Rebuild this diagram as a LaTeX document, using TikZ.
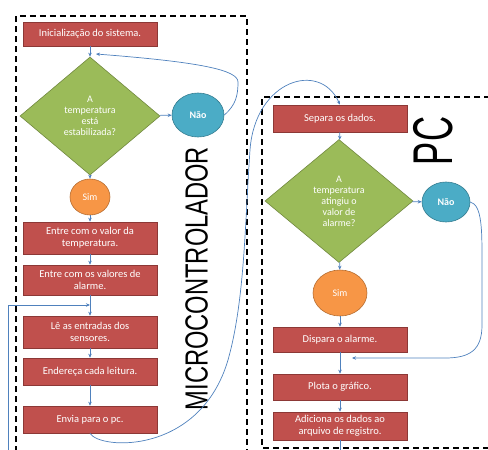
\documentclass[tikz,border=0pt]{standalone}
\usepackage{fontspec}
\setmainfont{Carlito}
\newfontfamily\rotulofont{Liberation Sans}
\usetikzlibrary{shapes.geometric,arrows.meta}

\definecolor{vermelho}{HTML}{C0504D}
\definecolor{vermelhoborda}{HTML}{8C3836}
\definecolor{verde}{HTML}{9BBB59}
\definecolor{verdeborda}{HTML}{71893F}
\definecolor{azul}{HTML}{4BACC6}
\definecolor{azulborda}{HTML}{357D91}
\definecolor{laranja}{HTML}{F79646}
\definecolor{laranjaborda}{HTML}{B66D31}
\definecolor{seta}{HTML}{4F81BD}

\tikzset{
  caixa/.style={draw=vermelhoborda,fill=vermelho,line width=0.6pt,text=white,
    minimum width=134pt,inner sep=1pt,align=center,
    font=\fontsize{10.5}{12}\selectfont},
  losango/.style={diamond,draw=verdeborda,fill=verde,line width=0.6pt,text=white,
    inner sep=0pt,align=center,font=\fontsize{10}{11}\selectfont},
  bolanao/.style={ellipse,draw=azulborda,fill=azul,line width=0.6pt,text=white,
    inner sep=0pt,font=\bfseries\fontsize{10}{11}\selectfont},
  bolasim/.style={ellipse,draw=laranjaborda,fill=laranja,line width=0.6pt,text=white,
    inner sep=0pt,font=\fontsize{10}{11}\selectfont},
  ligacao/.style={draw=seta,line width=0.7pt,-{Stealth[length=4pt,width=3.5pt]}},
  linha/.style={draw=seta,line width=0.7pt},
  moldura/.style={line width=1.6pt,dash pattern=on 6pt off 4pt}
}

\begin{document}
\begin{tikzpicture}[x=1pt,y=-1pt]
  \useasboundingbox (0,0) rectangle (488,450);

  % molduras tracejadas
  \draw[moldura] (16,452) -- (16,16) -- (247,16) -- (247,452);
  \draw[moldura] (490,97) -- (262,97) -- (262,448) -- (490,448);

  % microcontrolador
  \node[caixa,minimum height=24pt] (inicio) at (90,34) {Inicialização do sistema.};
  \node[losango,minimum width=140pt,minimum height=118pt] (estavel) at (90,116)
    {A\\temperatura\\está\\estabilizada?};
  \node[bolanao,minimum width=52pt,minimum height=44pt] (nao1) at (198,115) {Não};
  \node[bolasim,minimum width=40pt,minimum height=36pt] (sim1) at (90,197) {Sim};
  \node[caixa,minimum height=32pt] (valor) at (90,238) {Entre com o valor da\\temperatura.};
  \node[caixa,minimum height=30pt] (alarme) at (90,280) {Entre com os valores de\\alarme.};
  \node[caixa,minimum height=32pt] (leitura) at (90,332) {Lê as entradas dos\\sensores.};
  \node[caixa,minimum height=27pt] (endereca) at (90,371.5) {Endereça cada leitura.};
  \node[caixa,minimum height=27pt] (envia) at (90,419.5) {Envia para o pc.};

  % pc
  \node[caixa,minimum height=27pt] (separa) at (340,118.5) {Separa os dados.};
  \node[losango,minimum width=148pt,minimum height=123pt] (atingiu) at (339,201)
    {A\\temperatura\\atingiu o\\valor de\\alarme?};
  \node[bolanao,minimum width=48pt,minimum height=40pt] (nao2) at (446,202) {Não};
  \node[bolasim,minimum width=54pt,minimum height=46pt] (sim2) at (340,293) {Sim};
  \node[caixa,minimum height=25pt] (dispara) at (340,339.5) {Dispara o alarme.};
  \node[caixa,minimum height=26pt] (plota) at (340,387) {Plota o gráfico.};
  \node[caixa,minimum height=28pt] (adiciona) at (340,426) {Adiciona os dados ao\\arquivo de registro.};

  % rotulos
  \node[rotate=90] (micro) at (196.5,278.5)
    {\rotulofont\fontsize{32}{32}\selectfont\scalebox{0.74}[1]{MICROCONTROLADOR}};
  \node[rotate=90] (pc) at (433,141)
    {\rotulofont\fontsize{56}{56}\selectfont\scalebox{0.62}[1]{PC}};

  \coordinate (volta1) at (96,54);
  \coordinate (juncao) at (90,305);
  \coordinate (laco) at (8,452);
  \coordinate (volta2) at (352,358);
  \coordinate (fimpc) at (340,452);

  % ligacoes
  \draw[ligacao] (inicio) -- (estavel);
  \draw[ligacao] (estavel) -- (nao1);
  \draw[ligacao] (nao1.east) .. controls (236,105) and (238,95) .. (238,82)
    .. controls (238,70) and (200,62) .. (volta1);
  \draw[ligacao] (estavel) -- (sim1);
  \draw[ligacao] (sim1) -- (valor);
  \draw[ligacao] (valor) -- (alarme);
  \draw[ligacao] (alarme) -- (leitura);
  \draw[ligacao] (laco) |- (juncao);
  \draw[ligacao] (leitura) -- (endereca);
  \draw[ligacao] (endereca) -- (envia);
  \draw[ligacao] (envia.south) .. controls (100,450) and (200,455) .. (228,360)
    .. controls (245,300) and (245,220) .. (250,150)
    .. controls (255,80) and (320,60) .. (separa.north);
  \draw[ligacao] (separa) -- (atingiu);
  \draw[ligacao] (atingiu) -- (nao2);
  \draw[ligacao] (atingiu) -- (sim2);
  \draw[ligacao] (sim2) -- (dispara);
  \draw[ligacao] (dispara) -- (plota);
  \draw[ligacao] (nao2.east) .. controls (482,205) and (482,230) .. (482,260)
    -- (482,325) .. controls (482,350) and (470,358) .. (445,358) -- (volta2);
  \draw[ligacao] (plota) -- (adiciona);
  \draw[linha] (adiciona) -- (fimpc);
\end{tikzpicture}
\end{document}
